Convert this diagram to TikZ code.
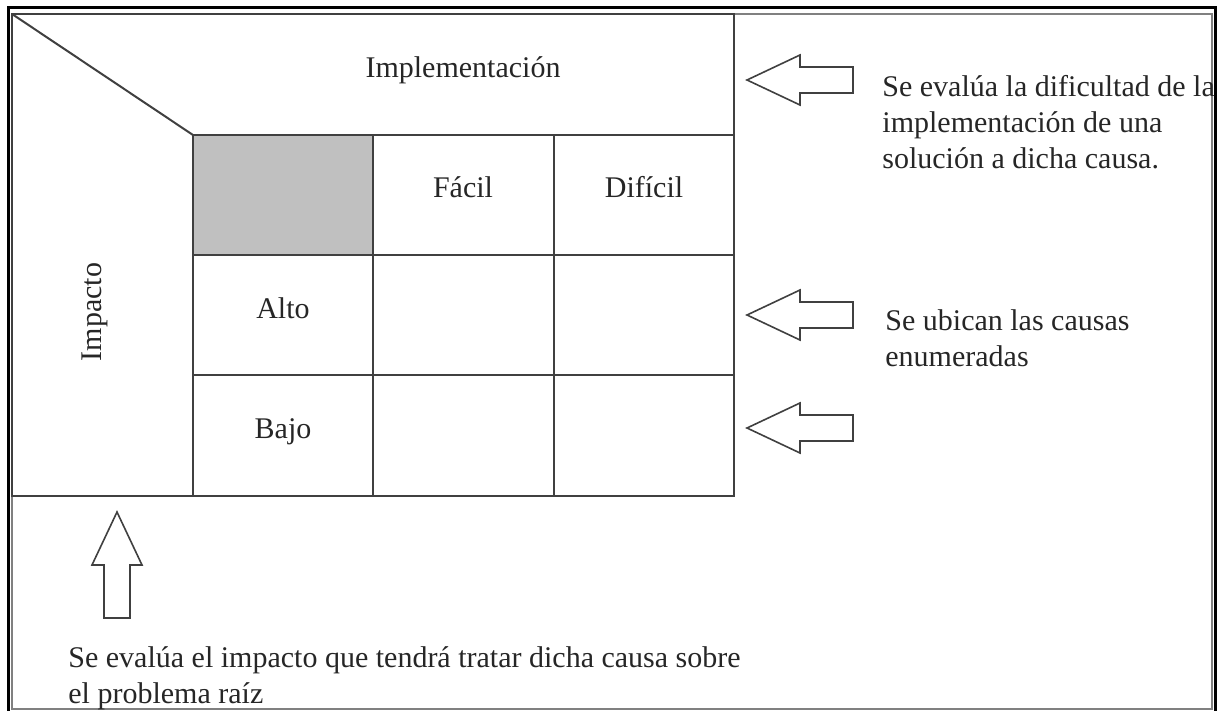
\documentclass[tikz,border=0pt]{standalone}
\usepackage{fontspec}
\setmainfont{Liberation Serif}
\usetikzlibrary{positioning}

\definecolor{linegray}{HTML}{404040}
\definecolor{cellgray}{HTML}{C0C0C0}
\definecolor{textgray}{HTML}{262626}

\tikzset{
  gridline/.style={draw=linegray,line width=1pt},
  hollowarrow/.style={draw=linegray,line width=0.8pt,fill=white,line join=miter},
  label/.style={text=textgray,inner sep=0pt},
  note/.style={label,align=left,anchor=north west}
}

\begin{document}
\begin{tikzpicture}[x=0.5pt,y=-0.5pt,font=\fontsize{15}{18}\selectfont]
\useasboundingbox (0,0) rectangle (1219,711);
% frame
\draw[black,line width=1.5pt] (8,711) -- (8,8) -- (1215,8) -- (1215,711);
\draw[gray,line width=0.6pt] (12,14) rectangle (1212,709);
% matrix
\fill[cellgray] (193,135) rectangle (373,255);
\draw[gridline] (12,14) rectangle (734,496);
\draw[gridline] (12,14) -- (193,135);
\foreach \y in {135,255,375} \draw[gridline] (193,\y) -- (734,\y);
\foreach \x in {193,373,554} \draw[gridline] (\x,135) -- (\x,496);
\node[label,anchor=base] (impl) at (463,78) {Implementación};
\node[label,anchor=base] (facil) at (463,198) {Fácil};
\node[label,anchor=base] (dificil) at (644,198) {Difícil};
\node[label,anchor=base] (alto) at (283,318) {Alto};
\node[label,anchor=base] (bajo) at (283,438) {Bajo};
\node[label,rotate=90] (impacto) at (95,312) {Impacto};
% arrows and notes
\foreach \y in {80,315,428}
  \draw[hollowarrow] (747,\y) -- ++(53,-25) -- ++(0,12) -- ++(53,0) -- ++(0,26) -- ++(-53,0) -- ++(0,12) -- cycle;
\draw[hollowarrow] (117,512) -- ++(-25,53) -- ++(12,0) -- ++(0,53) -- ++(26,0) -- ++(0,-53) -- ++(12,0) -- cycle;
\node[note] (notaimpl) at (882,75) {Se evalúa la dificultad de la\\implementación de una\\solución a dicha causa.};
\node[note] (notacausas) at (885,309) {Se ubican las causas\\enumeradas};
\node[note] (notaimpacto) at (68,646) {Se evalúa el impacto que tendrá tratar dicha causa sobre\\el problema raíz};
\end{tikzpicture}
\end{document}
